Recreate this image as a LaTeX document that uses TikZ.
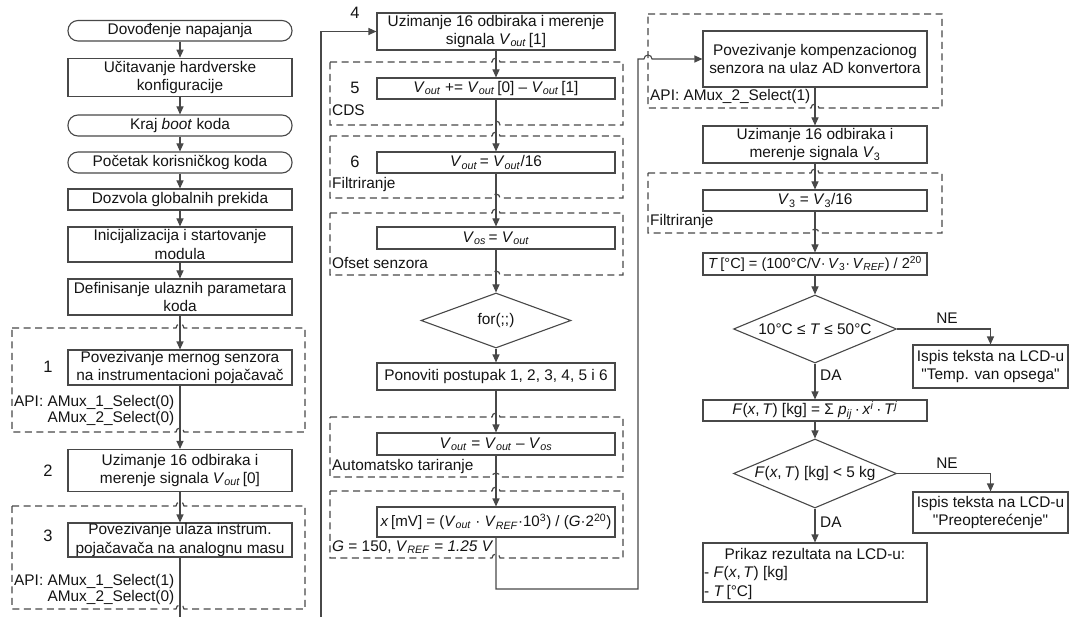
\documentclass[tikz,border=0pt]{standalone}
\usepackage{fontspec}
\setmainfont{Liberation Sans}
\usetikzlibrary{arrows.meta,shapes.geometric}
\definecolor{lc}{RGB}{72,72,72}
\definecolor{tc}{RGB}{20,20,20}
\newcommand\Vout{\textit{V}\textsubscript{\textit{out}}}
\newcommand\Vos{\textit{V}\textsubscript{\textit{os}}}
\newcommand\Vref{\textit{V}\textsubscript{\textit{REF}}}
\newcommand\Vtri{\textit{V}\textsubscript{3}}
\newcommand\qq{\XeTeXglyph\XeTeXcharglyph34\relax}
\newcommand\dboxTB[5]{\draw[dbox] (#1,#2) -- ({#5-4},#2) arc[start angle=180,end angle=360,radius=4] -- (#3,#2) -- (#3,#4) -- ({#5+4},#4) arc[start angle=0,end angle=-180,radius=4] -- (#1,#4) -- cycle;}
\tikzset{
  box/.style={draw=lc, line width=1.1pt, fill=white, align=center, inner sep=0pt, minimum width=224pt},
  mbox/.style={box, minimum width=238pt},
  term/.style={box, rounded corners=10pt, minimum height=21pt},
  dec/.style={diamond, draw=lc, line width=1.1pt, fill=white, inner sep=0pt, aspect=2.4},
  dbox/.style={draw=lc, line width=1.2pt, dash pattern=on 7pt off 4.5pt},
  flowa/.style={draw=lc, line width=1.1pt, -{Triangle[length=8pt,width=7pt]}},
  flow/.style={draw=lc, line width=1.1pt},
  lab/.style={inner sep=1pt, anchor=west},
  num/.style={inner sep=1pt, font=\fontsize{16.5}{18}\selectfont},
}
\begin{document}
\begin{tikzpicture}[x=1pt, y=-1pt, font=\fontsize{15.4}{18.5}\selectfont, text=tc]
\useasboundingbox (0,0) rectangle (1070,617);

% dashed groups
\dboxTB{12}{328}{305}{432}{180}
\dboxTB{12}{506}{305}{609}{180}
\dboxTB{330}{62}{623}{125}{496}
\dboxTB{330}{136}{623}{198}{496}
\dboxTB{330}{213}{623}{275}{496}
\dboxTB{330}{417}{623}{477}{496}
\dboxTB{330}{491}{623}{558}{496}
\draw[dbox] (648,14) -- (942,14) -- (942,108) -- (819,108) arc[start angle=0,end angle=-180,radius=4] -- (648,108) -- cycle;
\dboxTB{648}{173}{942}{233}{815}

% left column
\node[term, minimum height=20.5pt] (t1) at (180,30.75) {Dovođenje napajanja};
\node[box, minimum height=38.5pt] (b2) at (180,77.5) {Učitavanje hardverske\\konfiguracije};
\node[term] (t3) at (180,125.5) {Kraj \textit{boot} koda};
\node[term] (t4) at (180,162.5) {Početak korisničkog koda};
\node[box, minimum height=21pt] (b5) at (180,199.5) {Dozvola globalnih prekida};
\node[box, minimum height=35pt] (b6) at (180,244.5) {Inicijalizacija i startovanje\\modula};
\node[box, minimum height=36pt] (b7) at (180,297) {Definisanje ulaznih parametara\\koda};
\node[box, minimum height=35pt] (b8) at (180,367.5) {Povezivanje mernog senzora\\na instrumentacioni pojačavač};
\node[box, minimum height=42pt] (b9) at (180,470.5) {Uzimanje 16 odbiraka i\\merenje signala \Vout\,[0]};
\node[box, minimum height=34pt] (b10) at (180,540) {Povezivanje ulaza instrum.\\pojačavača na analognu masu};
\node[num] (n1) at (48,367) {1};
\node[num] (n2) at (48,471) {2};
\node[num] (n3) at (48,536) {3};
\node[lab, align=left, font=\fontsize{15.4}{15.5}\selectfont] (api1) at (13,410.5) {API: AMux\_1\_Select(0)\\\phantom{API: }AMux\_2\_Select(0)};
\node[lab, align=left, font=\fontsize{15.4}{15.5}\selectfont] (api3) at (13,589.5) {API: AMux\_1\_Select(1)\\\phantom{API: }AMux\_2\_Select(0)};

% middle column
\node[mbox, minimum height=37pt] (m4) at (496,31.5) {Uzimanje 16 odbiraka i merenje\\signala \Vout\,[1]};
\node[mbox, minimum height=21pt] (m5) at (496,88.5) {\Vout{} += \Vout\,[0] – \Vout\,[1]};
\node[mbox, minimum height=21pt] (m6) at (496,162.5) {\Vout\,= \Vout/16};
\node[mbox, minimum height=22pt] (m7) at (496,238) {\Vos\,= \Vout};
\node[dec, minimum width=150pt, minimum height=55pt] (d1) at (496,320.5) {for(;;)};
\node[mbox, minimum height=27pt] (m8) at (496,376.5) {Ponoviti postupak 1, 2, 3, 4, 5 i 6};
\node[mbox, minimum height=22pt] (m9) at (496,444) {\Vout{} = \Vout{} – \Vos};
\node[mbox, minimum height=30pt, font=\fontsize{15.1}{18}\selectfont] (m10) at (496,522) {\textit{x}\,[mV] = (\Vout{} · \Vref·10\textsuperscript{3}) / (\textit{G}·2\textsuperscript{20})};
\node[num] (n4) at (355,13) {4};
\node[num] (n5) at (355,88) {5};
\node[num] (n6) at (355,162) {6};
\node[lab] (lcds) at (331,110) {CDS};
\node[lab] (lfil) at (331,185) {Filtriranje};
\node[lab] (lofs) at (331,263) {Ofset senzora};
\node[lab] (laut) at (331,467) {Automatsko tariranje};
\node[lab] (lg) at (331,547) {\textit{G} = 150, \Vref{} = \textit{1.25 V}};

% right column
\node[box, minimum height=56pt] (r1) at (815,59) {Povezivanje kompenzacionog\\senzora na ulaz AD konvertora};
\node[lab] (api2) at (649,97) {API: AMux\_2\_Select(1)};
\node[box, minimum height=37pt] (r2) at (815,144.5) {Uzimanje 16 odbiraka i\\merenje signala \Vtri};
\node[box, minimum height=21pt] (r3) at (815,200.5) {\Vtri{} = \Vtri/16};
\node[lab] (lfil2) at (649,222) {Filtriranje};
\node[box, minimum height=22pt, font=\fontsize{14.6}{18}\selectfont] (r4) at (815,264) {\textit{T}\,[°C] = (100°C/V·\,\Vtri·\,\Vref) / 2\textsuperscript{20}};
\node[dec, minimum width=163pt, minimum height=68pt] (d2) at (815,329) {10°C ≤ \textit{T} ≤ 50°C};
\node[box, minimum width=155pt, minimum height=43pt] (r5) at (990.5,366.5) {Ispis teksta na LCD-u\\\qq Temp. van opsega\qq};
\node[box, minimum height=21pt] (r6) at (815,410.5) {\textit{F}(\textit{x},\,\textit{T}) [kg] = Σ \textit{p}\textsubscript{\textit{ij}}\,·\,\textit{x}\textsuperscript{\textit{i}}\,·\,\textit{T}\textsuperscript{\textit{j}}};
\node[dec, minimum width=163pt, minimum height=69pt] (d3) at (815,473.5) {\textit{F}(\textit{x},\,\textit{T}) [kg] < 5 kg};
\node[box, minimum width=155pt, minimum height=41pt] (r7) at (990.5,512.5) {Ispis teksta na LCD-u\\\qq Preopterećenje\qq};
\node[box, minimum height=59pt] (r8) at (815,572.5) {};
\node[inner sep=1pt] (p1) at (815,554) {Prikaz rezultata na LCD-u:};
\node[lab] (p2) at (703,574) {- \textit{F}(\textit{x},\,\textit{T}) [kg]};
\node[lab] (p3) at (703,593) {- \textit{T}\,[°C]};
\node[inner sep=1pt] (ne1) at (947,318) {NE};
\node[inner sep=1pt] (ne2) at (947,463) {NE};
\node[lab] (da1) at (819,375) {DA};
\node[lab] (da2) at (819,522) {DA};

% connectors left
\draw[flowa] (t1) -- (b2);
\draw[flowa] (b2) -- (t3);
\draw[flowa] (t3) -- (t4);
\draw[flowa] (t4) -- (b5);
\draw[flowa] (b5) -- (b6);
\draw[flowa] (b6) -- (b7);
\draw[flowa] (b7) -- (b8);
\draw[flowa] (b8) -- (b9);
\draw[flowa] (b9) -- (b10);
\coordinate (lb) at (180,617);
\draw[flow] (b10) -- (lb);

% connectors middle
\coordinate (ml) at (321,617);
\coordinate (mt) at (321,31.5);
\draw[flowa] (ml) -- (mt) -- (m4.west);
\draw[flowa] (m4) -- (m5);
\draw[flowa] (m5) -- (m6);
\draw[flowa] (m6) -- (m7);
\draw[flowa] (m7) -- (d1);
\draw[flowa] (d1) -- (m8);
\draw[flowa] (m8) -- (m9);
\draw[flowa] (m9) -- (m10);
\coordinate (c1) at (496,589);
\coordinate (c2) at (638,589);
\coordinate (c3) at (638,59);
\coordinate (c4) at (644,59);
\draw[flowa] (m10.south) -- (c1) -- (c2) -- (c3) -- (c4) arc[start angle=180,end angle=360,radius=4] -- (r1.west);

% connectors right
\draw[flowa] (r1) -- (r2);
\draw[flowa] (r2) -- (r3);
\draw[flowa] (r3) -- (r4);
\draw[flowa] (r4) -- (d2);
\draw[flowa] (d2) -- (r6);
\draw[flowa] (r6) -- (d3);
\draw[flowa] (d3) -- (r8);
\coordinate (k1) at (r5.north |- d2.east);
\draw[flowa] (d2.east) -- (k1) -- (r5.north);
\coordinate (k2) at (r7.north |- d3.east);
\draw[flowa] (d3.east) -- (k2) -- (r7.north);
\end{tikzpicture}
\end{document}
